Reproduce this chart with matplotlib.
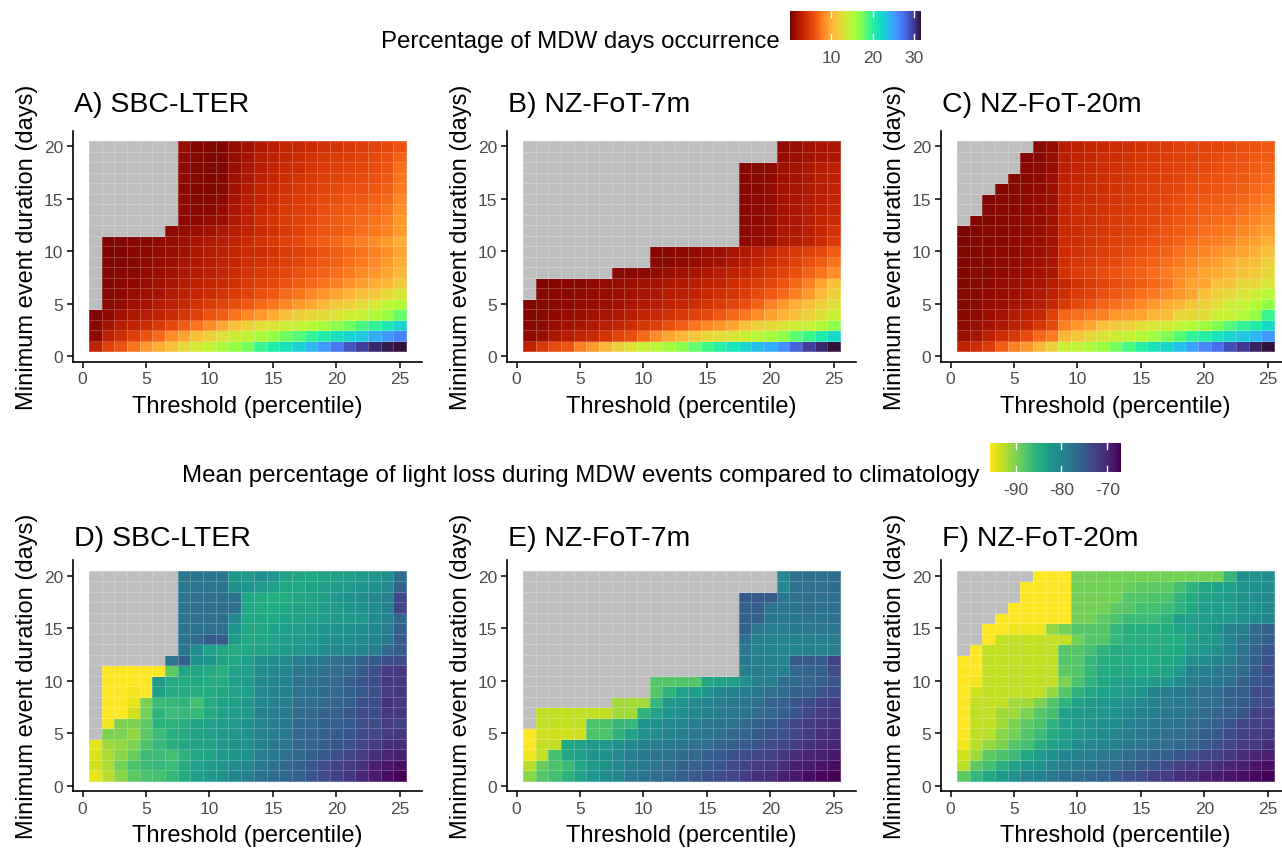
import numpy as np
import matplotlib
matplotlib.use("Agg")
import matplotlib.pyplot as plt
from matplotlib.colors import Normalize
from matplotlib.cm import ScalarMappable

plt.rcParams['font.family'] = ['Liberation Sans', 'DejaVu Sans']
plt.rcParams['axes.unicode_minus'] = False

N = np.nan
thresholds = np.arange(1, 26)
durations = np.arange(1, 21)

# rows = minimum duration 1..20 (bottom to top), columns = threshold 1..25
occ_sbc = [
    [3, 5, 6, 7.5, 9, 10, 11, 12.5, 13.5, 14.5, 15.5, 16.5, 17.5, 19.5, 20.5, 21.5, 22.5, 24, 25.5, 27, 28.8, 29.8, 30.8, 31.3, 31.7],
    [0.8, 2.8, 3.8, 4.8, 6, 7, 8.5, 9.5, 11, 12, 13, 13.8, 14.5, 15.5, 16.5, 17.8, 18.5, 19.8, 20.5, 21.5, 22.5, 23, 24.3, 25.5, 26.5],
    [0.5, 1.5, 2.5, 3, 3.8, 4.5, 5.5, 6.5, 7.5, 8.5, 9.5, 11, 11.8, 12.8, 13.2, 13.8, 14.3, 15, 15.8, 16.8, 17.8, 19, 19.8, 21, 22.5],
    [0.3, 0.8, 1.5, 2, 2.5, 3, 3.5, 4.3, 5, 6, 6.5, 7.5, 8.3, 9, 9.8, 10.8, 11.8, 12.3, 12.8, 13.2, 13.8, 14.3, 15.2, 16.3, 18],
    [N, 0.5, 0.9, 1.4, 1.8, 2.3, 2.8, 3.3, 4, 4.6, 5.2, 5.7, 6.2, 7, 7.6, 8.2, 9, 9.6, 10.5, 11.5, 12, 12.6, 13.6, 14.6, 15.3],
    [N, 0.4, 0.7, 1.0, 1.4, 1.8, 2.3, 2.8, 3.3, 3.7, 4.2, 4.7, 5.2, 5.8, 6.3, 7, 7.5, 8.2, 8.8, 9.5, 10.2, 11, 11.5, 12.5, 13.3],
    [N, 0.3, 0.5, 0.8, 1.1, 1.5, 1.9, 2.4, 2.8, 3.2, 3.6, 4.0, 4.5, 5.0, 5.5, 6.0, 6.5, 7.0, 7.5, 8.0, 8.6, 9.2, 9.8, 10.5, 11.5],
    [N, 0.3, 0.4, 0.6, 0.9, 1.2, 1.6, 2.0, 2.4, 2.8, 3.2, 3.6, 4.0, 4.4, 4.9, 5.4, 5.9, 6.4, 6.8, 7.3, 7.8, 8.3, 8.8, 9.5, 10.5],
    [N, 0.2, 0.3, 0.5, 0.8, 1.0, 1.4, 1.8, 2.2, 2.6, 3.0, 3.3, 3.7, 4.0, 4.4, 4.9, 5.3, 5.8, 6.3, 6.8, 7.3, 7.8, 8.3, 9.0, 10.0],
    [N, 0.2, 0.3, 0.5, 0.7, 0.9, 1.2, 1.6, 2.0, 2.4, 2.8, 3.1, 3.5, 3.8, 4.2, 4.6, 5.0, 5.5, 6.0, 6.5, 7.0, 7.5, 8.0, 8.5, 9.5],
    [N, 0.2, 0.3, 0.4, 0.6, 0.8, 1.1, 1.4, 1.8, 2.2, 2.6, 3.0, 3.5, 4.0, 4.5, 5.0, 5.5, 6.0, 6.5, 7.0, 7.5, 8.0, 8.5, 9.0, 10.0],
    [N] * 6 + [0.9, 1.0, 1.2, 1.6, 2.0, 2.5, 3.0, 3.5, 4.0, 4.5, 5.0, 5.5, 6.0, 6.4, 6.8, 7.2, 7.6, 8.0, 9.0],
    [N] * 7 + [0.8, 0.7, 0.9, 1.3, 2.2, 2.9, 3.6, 4.1, 4.6, 5.0, 5.5, 6.0, 6.4, 6.7, 7.0, 7.4, 7.9, 9.0],
    [N] * 7 + [0.8, 0.5, 0.6, 1.0, 2.0, 2.7, 3.4, 3.9, 4.4, 4.8, 5.2, 5.7, 6.1, 6.4, 6.7, 7.0, 7.5, 8.6],
    [N] * 7 + [0.7, 0.4, 0.4, 0.7, 1.8, 2.5, 3.2, 3.7, 4.2, 4.6, 5.0, 5.5, 5.8, 6.1, 6.3, 6.6, 7.0, 8.2],
    [N] * 7 + [0.7, 0.4, 0.3, 0.5, 1.6, 2.3, 3.0, 3.5, 4.0, 4.4, 4.7, 5.2, 5.5, 5.7, 5.9, 6.2, 6.6, 7.8],
    [N] * 7 + [0.7, 0.4, 0.3, 0.4, 1.4, 2.1, 2.8, 3.3, 3.8, 4.1, 4.4, 4.9, 5.2, 5.4, 5.6, 5.9, 6.3, 7.5],
    [N] * 7 + [0.8, 0.4, 0.3, 0.3, 1.2, 1.9, 2.6, 3.1, 3.5, 3.8, 4.2, 4.6, 4.9, 5.1, 5.4, 5.6, 6.0, 7.2],
    [N] * 7 + [0.8, 0.4, 0.3, 0.3, 1.0, 1.7, 2.4, 2.9, 3.3, 3.6, 4.0, 4.4, 4.6, 4.8, 5.1, 5.4, 5.7, 6.8],
    [N] * 7 + [1.0, 0.4, 0.3, 0.3, 0.9, 1.5, 2.2, 2.7, 3.1, 3.3, 3.7, 4.0, 4.2, 4.4, 4.8, 5.1, 5.5, 6.0],
]

occ_fot7 = [
    [3, 4.5, 5.5, 6, 8, 9, 10.5, 12, 13, 14, 14.8, 15.8, 16.8, 18, 19.3, 20.2, 21.2, 22.2, 23.5, 24.5, 26, 28, 29.8, 30.8, 31.6],
    [0.8, 1.3, 2, 2.5, 3, 3.5, 4.2, 5.2, 5.7, 7, 8.3, 9.5, 10.5, 11.3, 12.3, 12.8, 13.3, 14, 14.8, 15.8, 16.8, 18.3, 19.3, 20.5, 22],
    [0.4, 0.8, 1.2, 1.5, 1.8, 2.2, 2.7, 3.2, 3.7, 4.3, 5, 5.8, 6.5, 7.5, 8.3, 8.8, 9.5, 11, 12, 12.5, 13.2, 13.8, 14.3, 15.2, 16.8],
    [0.3, 0.5, 0.8, 1.0, 1.2, 1.5, 1.8, 2.2, 2.5, 3.0, 3.4, 3.9, 4.5, 5.0, 5.5, 6.2, 7.0, 7.8, 8.5, 9.3, 10.2, 11, 12, 13, 14],
    [0.3, 0.4, 0.6, 0.7, 0.9, 1.1, 1.3, 1.6, 1.9, 2.2, 2.5, 2.9, 3.3, 3.7, 4.1, 4.6, 5.1, 5.8, 6.8, 8.0, 9.0, 10.0, 11.0, 12.0, 12.8],
    [N, 0.4, 0.5, 0.6, 0.8, 0.9, 1.1, 1.3, 1.5, 1.8, 2.1, 2.4, 2.7, 3.0, 3.4, 3.8, 4.2, 4.8, 5.5, 6.2, 7.0, 8.0, 9.0, 10.5, 12.0],
    [N, 0.3, 0.4, 0.5, 0.6, 0.7, 0.9, 1.1, 1.3, 1.5, 1.7, 2.0, 2.3, 2.6, 2.9, 3.2, 3.6, 4.1, 4.7, 5.3, 6.0, 7.0, 8.0, 9.5, 11.0],
    [N] * 7 + [0.5, 0.6, 0.7, 0.9, 1.2, 1.5, 1.8, 2.1, 2.5, 2.9, 3.3, 3.8, 4.4, 5.0, 5.8, 6.8, 7.5, 8.5],
    [N] * 10 + [0.5, 0.6, 0.8, 1.0, 1.3, 1.6, 2.0, 2.5, 3.0, 3.6, 4.2, 5.0, 5.8, 6.5, 7.5],
    [N] * 10 + [0.4, 0.5, 0.7, 0.9, 1.1, 1.4, 1.8, 2.2, 2.7, 3.3, 3.9, 4.5, 5.0, 5.5, 6.5],
    [N] * 17 + [0.8, 1.0, 1.3, 2.0, 2.4, 2.9, 3.5, 4.5],
    [N] * 17 + [0.7, 0.9, 1.2, 1.9, 2.2, 2.7, 3.2, 4.0],
    [N] * 17 + [0.6, 0.8, 1.1, 1.8, 2.1, 2.5, 3.0, 3.5],
    [N] * 17 + [0.6, 0.7, 1.0, 1.7, 2.0, 2.4, 2.8, 3.3],
    [N] * 17 + [0.5, 0.7, 0.9, 1.6, 1.9, 2.3, 2.7, 3.1],
    [N] * 17 + [0.5, 0.6, 0.9, 1.5, 1.8, 2.2, 2.6, 3.0],
    [N] * 17 + [0.4, 0.6, 0.8, 1.4, 1.7, 2.1, 2.5, 2.9],
    [N] * 17 + [0.4, 0.5, 0.8, 1.3, 1.6, 2.0, 2.4, 2.8],
    [N] * 20 + [1.0, 1.3, 1.6, 1.9, 2.1],
    [N] * 20 + [0.9, 1.2, 1.5, 1.8, 2.0],
]

occ_fot20 = [
    [3, 3.8, 4.7, 6.5, 8, 8.8, 10.5, 12, 14, 14.5, 15.3, 16.3, 17.5, 19, 20.2, 21.3, 22.2, 23.5, 25, 26.3, 27.5, 29, 30, 31, 31.6],
    [1.2, 1.8, 2.8, 3.8, 4.4, 5.6, 7, 7.8, 10.5, 11.3, 12.3, 13.2, 13.8, 14.3, 15.2, 16.2, 17.2, 18.5, 19.7, 20.3, 21.3, 22.2, 23, 24, 25.5],
    [0.8, 1.2, 1.6, 2.2, 2.8, 3.3, 4.3, 5.5, 8, 8.8, 9.5, 11, 11.5, 12, 12.8, 13.3, 13.8, 14.5, 15.2, 16, 17.2, 18.5, 19.7, 20.5, 22],
    [0.5, 0.8, 1.2, 1.7, 2.3, 2.8, 3.3, 5.0, 7.0, 7.2, 7.8, 8.0, 9.0, 9.2, 9.5, 10.5, 10.8, 12.3, 12.5, 12.8, 14.0, 14.2, 15.2, 16.5, 19.5],
    [0.4, 0.7, 1.0, 1.3, 1.7, 2.1, 2.6, 3.3, 4.5, 5.5, 6.0, 6.8, 7.3, 7.8, 8.3, 9.0, 9.8, 10.5, 11.3, 12.0, 12.8, 13.8, 14.3, 15.2, 16.5],
    [0.4, 0.6, 0.8, 1.1, 1.4, 1.8, 2.2, 2.8, 3.8, 4.6, 5.2, 5.8, 6.3, 6.8, 7.3, 7.8, 8.3, 8.8, 9.5, 11.0, 12.0, 12.5, 13.2, 13.8, 15.0],
    [0.3, 0.5, 0.7, 0.9, 1.2, 1.5, 1.9, 2.4, 3.3, 4.0, 4.6, 5.2, 5.6, 6.0, 6.5, 7.0, 7.5, 8.5, 9.5, 9.5, 11.0, 11.0, 12.3, 12.3, 13.2],
    [0.3, 0.5, 0.6, 0.8, 1.0, 1.3, 1.7, 2.1, 4.0, 4.6, 5.1, 5.6, 6.0, 6.4, 6.8, 7.2, 7.7, 8.2, 8.8, 9.5, 10.0, 10.5, 11.0, 11.5, 12.5],
    [0.3, 0.4, 0.6, 0.7, 0.9, 1.2, 1.5, 1.9, 3.8, 4.3, 4.7, 5.1, 5.5, 5.9, 6.3, 6.7, 7.2, 7.8, 8.3, 8.8, 9.2, 9.8, 10.5, 10.8, 12.0],
    [0.3, 0.4, 0.5, 0.7, 0.8, 1.1, 1.4, 1.8, 3.6, 4.0, 4.4, 4.8, 5.2, 5.5, 5.9, 6.3, 6.7, 7.2, 7.8, 8.2, 8.6, 9.0, 9.5, 10.0, 11.0],
    [0.2, 0.4, 0.5, 0.6, 0.8, 1.0, 1.3, 1.7, 3.5, 3.8, 4.2, 4.5, 4.9, 5.2, 5.5, 5.9, 6.3, 6.7, 7.2, 7.6, 7.9, 8.2, 8.8, 9.3, 10.0],
    [0.2, 0.3, 0.5, 0.6, 0.7, 0.9, 1.2, 1.6, 3.4, 3.7, 4.0, 4.3, 4.6, 4.9, 5.2, 5.6, 6.0, 6.4, 6.8, 7.2, 7.4, 7.7, 8.2, 8.7, 9.2],
    [N, 0.3, 0.4, 0.5, 0.7, 0.9, 1.1, 1.5, 3.3, 3.6, 3.9, 4.2, 4.4, 4.7, 5.0, 5.3, 5.7, 6.1, 6.5, 6.9, 7.1, 7.3, 7.7, 8.2, 8.6],
    [N, N, 0.4, 0.5, 0.6, 0.8, 1.0, 1.4, 3.2, 3.5, 3.8, 4.0, 4.3, 4.5, 4.8, 5.1, 5.4, 5.8, 6.2, 6.5, 6.7, 6.9, 7.2, 7.7, 8.2],
    [N, N, 0.3, 0.5, 0.6, 0.8, 1.0, 1.3, 3.1, 3.4, 3.7, 3.9, 4.2, 4.4, 4.7, 5.0, 5.3, 5.6, 6.0, 6.2, 6.4, 6.6, 6.9, 7.3, 7.7],
    [N, N, N, 0.4, 0.5, 0.7, 0.9, 1.3, 3.0, 3.3, 3.6, 3.8, 4.1, 4.3, 4.6, 4.9, 5.1, 5.4, 5.7, 5.9, 6.1, 6.3, 6.6, 7.0, 7.3],
    [N] * 4 + [0.4, 0.6, 0.8, 1.2, 2.9, 3.2, 3.5, 3.7, 4.0, 4.2, 4.5, 4.7, 5.0, 5.2, 5.5, 5.7, 5.9, 6.1, 6.3, 6.7, 7.0],
    [N] * 5 + [0.5, 0.7, 1.1, 2.8, 3.1, 3.4, 3.6, 3.9, 4.1, 4.4, 4.6, 4.9, 5.1, 5.3, 5.5, 5.7, 5.9, 6.1, 6.4, 6.7],
    [N] * 5 + [0.4, 0.6, 1.0, 2.7, 3.0, 3.3, 3.5, 3.8, 4.0, 4.3, 4.5, 4.8, 5.0, 5.2, 5.4, 5.5, 5.7, 5.9, 6.2, 6.4],
    [N] * 6 + [0.5, 0.9, 2.6, 2.9, 3.2, 3.4, 3.7, 3.9, 4.2, 4.4, 4.7, 4.9, 5.1, 5.2, 5.3, 5.5, 5.7, 6.0, 6.2],
]

loss_sbc = [
    [-94.5, -92.5, -90.5, -88.5, -87.5, -87, -86, -84.5, -83, -82.5, -81.5, -80, -79.5, -77.5, -77, -76.5, -75.5, -74.5, -73.5, -72.5, -71.5, -70, -69, -68, -67],
    [-93.5, -92, -89.5, -87.5, -86.5, -86, -86.5, -84.5, -83.5, -82.5, -82, -81, -80, -78.5, -77.5, -76.5, -75.5, -74.5, -73.5, -72.5, -72, -71, -69.5, -68.5, -68],
    [-94, -92, -90.5, -89, -86.5, -86.5, -87, -85.5, -84, -83.5, -82.5, -82, -81.5, -79, -78.5, -77.5, -76.5, -75.5, -75, -74, -73, -72, -71, -70, -69.5],
    [-94.5, -91.5, -91, -90, -87.5, -86, -85, -84, -83.5, -83.5, -82.5, -81.5, -81.5, -79.5, -78.5, -78, -76.5, -76, -75.5, -74.5, -74, -73, -72, -71, -70.5],
    [N, -90, -90, -91, -88.5, -86.5, -85, -84.5, -83.5, -83, -82.5, -82, -81.5, -79.5, -79, -78.5, -76.5, -76, -75.5, -75, -74.5, -73.5, -73, -72, -71.5],
    [N, -95, -90, -90, -88.5, -85.5, -85.5, -85, -83.5, -83.5, -83, -82.5, -81.5, -80, -79, -78.5, -77, -76.5, -76, -75.5, -75, -74, -73.5, -72, -72.5],
    [N, -95.5, -95.5, -93.5, -89.5, -85.5, -86.5, -86, -86, -84.5, -83.5, -83, -82.5, -79.5, -79, -78.5, -77, -76.5, -76, -75.5, -74.5, -73.5, -73.5, -71.5, -71.5],
    [N, -95.5, -95.5, -94.5, -90, -86.5, -86, -85.5, -87, -84.5, -83.5, -83, -82, -80.5, -79.5, -79, -77.5, -77, -76.5, -76, -75.5, -74, -73.5, -71, -71.5],
    [N, -95.5, -95.5, -95, -95.5, -83, -84.5, -84.5, -85, -84.5, -84, -83.5, -83, -80.5, -80, -79.5, -78, -77.5, -77, -76.5, -76, -75, -74, -72, -71.5],
    [N, -95.5, -95.5, -95.5, -95.5, -82.5, -84.5, -84.5, -84, -84.5, -84.5, -83, -82.5, -80.5, -80, -79.5, -78, -77.5, -77, -76.5, -75.5, -74.5, -73.5, -71.5, -72],
    [N, -95.5, -95.5, -95.5, -95.5, -95.5, -88.5, -84, -84, -84.5, -85, -83.5, -83, -81, -80.5, -80, -78.5, -78, -77.5, -77, -76.5, -75, -74, -72, -71.5],
    [N] * 6 + [-78, -75.5, -81.5, -82, -83.5, -84, -83, -81.5, -81, -80.5, -79, -78.5, -78, -77.5, -77, -76, -75, -73.5, -73.5],
    [N] * 7 + [-78.5, -81, -83.5, -84, -84.5, -84, -83.5, -83, -82.5, -82, -81.5, -81, -80.5, -80.5, -80, -79, -76.5, -75],
    [N] * 7 + [-78, -77, -75, -75, -82.5, -84, -84, -83.5, -83, -82.5, -82, -81.5, -81, -81, -80.5, -80, -78.5, -75],
    [N] * 7 + [-78, -77.5, -77.5, -77.5, -82, -84, -84, -83.5, -83, -83, -82.5, -82, -82, -81.5, -81, -80.5, -79, -76],
    [N] * 7 + [-78, -77.5, -77.5, -77.5, -80.5, -84, -84, -84, -83.5, -83.5, -83, -83, -82.5, -82.5, -82, -81, -79.5, -76.5],
    [N] * 7 + [-78, -77.5, -77.5, -77.5, -77.5, -84, -84.5, -84.5, -84, -83.5, -83.5, -83, -82.5, -82, -81.5, -81, -79.5, -73],
    [N] * 7 + [-78, -77.5, -77.5, -77.5, -77.5, -84, -84.5, -85, -84.5, -84, -83.5, -83, -82, -81.5, -81, -80.5, -79.5, -73],
    [N] * 7 + [-78.5, -78, -78, -78, -81.5, -82, -82.5, -83, -84, -84, -83.5, -83, -83, -82.5, -82, -81.5, -80.5, -76],
    [N] * 7 + [-78.5, -78, -78, -78, -82, -82.5, -81, -82, -83.5, -84, -84, -83.5, -83.5, -83, -82.5, -82, -81, -77],
]

loss_fot7 = [
    [-90.5, -88, -87, -85.5, -83.5, -82, -81, -80, -78.5, -78, -77, -76.5, -75.5, -75, -74, -73.5, -73, -72, -71, -70.5, -69.5, -69, -68, -67.5, -67],
    [-92.5, -89, -87.5, -86.5, -84, -82.5, -81.5, -80.5, -79, -78.5, -78, -77, -76, -75.5, -75, -74.5, -73.5, -72.5, -72, -71.5, -70.5, -69.5, -69, -68.5, -68],
    [-95, -93, -87, -84, -83, -82, -81.5, -80.5, -79, -78.5, -78, -77.5, -77, -76.5, -75.5, -75, -74, -73.5, -73, -72.5, -71.5, -70.5, -70, -69.5, -69],
    [-95.5, -93, -93, -84, -83.5, -82.5, -82.5, -81.5, -80.5, -79.5, -79, -78.5, -78, -77.5, -77, -76, -75.5, -75, -74.5, -73.5, -73, -72, -71, -70.5, -70],
    [-95.5, -93.5, -93.5, -93.5, -93.5, -87.5, -87.5, -85.5, -83.5, -81.5, -81, -80, -79, -78.5, -78, -77.5, -76.5, -76, -75, -74.5, -74, -73, -72, -71, -70.5],
    [N, -93, -93, -93, -93, -87.5, -87.5, -86, -86, -82, -81.5, -80.5, -80, -79, -78.5, -78, -77.5, -76.5, -76, -75, -74.5, -73, -72, -71.5, -71],
    [N, -93, -93, -93, -93, -93, -93, -91.5, -91.5, -85.5, -83.5, -82, -81, -80.5, -79.5, -79, -78.5, -78, -77, -76.5, -75.5, -74.5, -73, -72, -71.5],
    [N] * 7 + [-91.5, -91.5, -91.5, -86, -82, -81.5, -80.5, -80, -79, -78.5, -78, -77.5, -76, -75.5, -74.5, -73.5, -72.5, -72],
    [N] * 10 + [-88, -85.5, -83.5, -83, -82, -80, -79.5, -79, -78.5, -77.5, -77, -76, -75.5, -74.5, -73.5],
    [N] * 10 + [-88, -88, -88, -88, -84, -83.5, -83, -81, -79.5, -79, -77, -76.5, -76, -75.5, -74.5],
    [N] * 17 + [-79, -79, -79.5, -79.5, -76.5, -76, -75.5, -73.5],
    [N] * 17 + [-78.5, -79, -79.5, -80, -75, -75, -75, -72.5],
    [N] * 17 + [-78.5, -79.5, -80, -80, -80, -79.5, -79.5, -79],
    [N] * 17 + [-77.5, -79.5, -80, -80, -79.5, -79.5, -79.5, -79],
    [N] * 17 + [-76, -78.5, -79, -79, -78.5, -78.5, -78.5, -78],
    [N] * 17 + [-75.5, -76, -78, -78.5, -78, -78, -78, -77.5],
    [N] * 17 + [-75.5, -75.5, -78, -78, -77.5, -77.5, -77.5, -77.5],
    [N] * 17 + [-75, -75, -75, -78, -77.5, -77.5, -77.5, -77.5],
    [N] * 20 + [-80.5, -77.5, -77.5, -77.5, -77],
    [N] * 20 + [-80.5, -77.5, -77.5, -77.5, -77],
]

loss_fot20 = [
    [-88.5, -86, -84, -82.5, -81.5, -80, -79.5, -78.5, -77.5, -77, -76.5, -76, -75, -74, -73.5, -72.5, -72, -71, -70.5, -69.5, -69, -68.5, -68, -67.5, -67],
    [-92.5, -88.5, -87, -85, -83, -82, -81.5, -80.5, -79, -78.5, -78, -77.5, -77, -76, -75, -74.5, -73.5, -72.5, -72, -71.5, -70.5, -70, -69.5, -68.5, -68],
    [-93.5, -91.5, -88.5, -87.5, -86.5, -84, -82.5, -81.5, -80, -79.5, -79, -78.5, -78, -77, -76.5, -76, -75.5, -74.5, -74, -73, -72.5, -71.5, -70.5, -70, -69.5],
    [-95, -92.5, -91, -90, -88, -87, -85, -83.5, -82.5, -81, -80.5, -80, -79.5, -78.5, -78, -77.5, -77, -76.5, -76, -75, -74, -73, -72, -71.5, -70.5],
    [-95.5, -93, -92.5, -90.5, -89.5, -88, -86.5, -84.5, -83, -82, -81.5, -81, -80, -79, -78.5, -78, -77.5, -77, -76.5, -75.5, -75, -73.5, -72.5, -72, -71.5],
    [-95.5, -93, -93, -91.5, -90, -88.5, -87.5, -85.5, -83.5, -82.5, -82, -81.5, -81, -79.5, -79, -78.5, -78, -77.5, -77, -76.5, -75.5, -74.5, -73, -72.5, -72],
    [-95.5, -93, -93, -91.5, -91.5, -90, -88, -87, -83.5, -82.5, -82, -82, -81.5, -80.5, -79.5, -79, -78.5, -78, -77.5, -77, -76, -75.5, -74.5, -72.5, -72.5],
    [-95.5, -93, -93, -93, -91.5, -91.5, -90, -88, -85.5, -83.5, -82.5, -82, -82, -81, -80.5, -79.5, -79, -78.5, -78, -77.5, -77, -76, -75, -74, -73.5],
    [-95.5, -93.5, -93, -93, -93, -93, -93, -91, -88, -85.5, -84, -83.5, -83, -82.5, -82, -79.5, -79, -78.5, -78, -77.5, -77, -76, -75.5, -73.5, -73.5],
    [-95.5, -95, -93, -93, -93, -93, -93, -93, -90, -87.5, -85.5, -84, -83.5, -83, -83, -82.5, -82, -81, -79, -78.5, -78, -77.5, -76, -74.5, -74],
    [-95.5, -95.5, -93, -93, -93, -93, -93, -93, -88.5, -88, -86, -84.5, -84, -84, -84, -84, -83.5, -82.5, -79.5, -79, -78.5, -78, -77, -75, -73.5],
    [-95.5, -95.5, -93, -93, -93, -93, -93, -93, -88, -88, -86, -85, -84.5, -84.5, -84.5, -84.5, -84, -83.5, -81.5, -81, -80, -79, -77.5, -75.5, -74],
    [N, -95.5, -93, -93, -93, -93, -93, -93, -88, -88, -87, -85.5, -84.5, -84.5, -84.5, -84.5, -84.5, -84, -82.5, -82, -81, -79.5, -78, -76, -74.5],
    [N, N, -95.5, -93, -93, -93, -93, -93, -93, -89.5, -88, -88, -86, -85, -85, -85, -84.5, -84.5, -83, -82.5, -81.5, -80, -78.5, -76.5, -75.5],
    [N, N, -95.5, -95.5, -95, -95, -95, -91, -89.5, -88, -88, -88, -86, -85, -85, -85, -84.5, -83.5, -83, -82.5, -81.5, -79.5, -79, -76.5, -76],
    [N, N, N, -95.5, -95.5, -95.5, -95.5, -95.5, -95.5, -89.5, -89.5, -88.5, -87.5, -86.5, -86.5, -86.5, -85.5, -83, -83, -83, -82.5, -82, -81.5, -81, -80],
    [N] * 4 + [-95.5, -95.5, -95.5, -95.5, -95.5, -89.5, -89.5, -89.5, -88.5, -88, -87, -87, -86.5, -85.5, -84, -83, -83, -83, -81.5, -81.5, -80.5],
    [N] * 5 + [-95.5, -95.5, -95.5, -95.5, -89.5, -89.5, -89.5, -89.5, -88, -88, -87.5, -87.5, -85.5, -84.5, -83.5, -83, -82.5, -81.5, -81, -80.5],
    [N] * 5 + [-95.5, -95.5, -95.5, -95.5, -89.5, -89.5, -89.5, -89.5, -89, -88.5, -88.5, -88.5, -87, -85.5, -84, -83.5, -83, -82, -81.5, -81],
    [N] * 6 + [-95.5, -95.5, -95.5, -89.5, -89.5, -89.5, -89.5, -89.5, -89.5, -89.5, -89.5, -89.5, -89.5, -89.5, -89.5, -86, -81.5, -81.5, -81],
]

titles_top = ["A) SBC-LTER", "B) NZ-FoT-7m", "C) NZ-FoT-20m"]
titles_bottom = ["D) SBC-LTER", "E) NZ-FoT-7m", "F) NZ-FoT-20m"]

W, H = 1282, 854
fig = plt.figure(figsize=(W / 100, H / 100), dpi=100)

occ_cmap = plt.get_cmap("turbo_r").copy()
occ_cmap.set_bad("#BEBEBE")
loss_cmap = plt.get_cmap("viridis_r").copy()
loss_cmap.set_bad("#BEBEBE")
occ_norm = Normalize(0, 31.7)
loss_norm = Normalize(-95.6, -67)

x_edges = np.arange(0.5, 26)
y_edges = np.arange(0.5, 21)

lefts_px = [73, 507, 941]
rows = [
    (362.5, [occ_sbc, occ_fot7, occ_fot20], titles_top, occ_cmap, occ_norm, 105),
    (792, [loss_sbc, loss_fot7, loss_fot20], titles_bottom, loss_cmap, loss_norm, 539),
]
ax_w, ax_h = 349, 231
txt = "#4D4D4D"

for bottom_px, grids, titles, cmap, norm, title_y in rows:
    for left_px, grid, title in zip(lefts_px, grids, titles):
        ax = fig.add_axes([left_px / W, 1 - bottom_px / H, ax_w / W, ax_h / H])
        vals = np.ma.masked_invalid(np.array(grid, dtype=float))
        ax.pcolormesh(x_edges, y_edges, vals, cmap=cmap, norm=norm,
                      edgecolors=(1, 1, 1, 0.22), linewidth=0.4)
        ax.set_xlim(-0.75, 26.75)
        ax.set_ylim(-0.5, 21.5)
        ax.set_xticks([0, 5, 10, 15, 20, 25])
        ax.set_yticks([0, 5, 10, 15, 20])
        ax.spines["top"].set_visible(False)
        ax.spines["right"].set_visible(False)
        for s in ["left", "bottom"]:
            ax.spines[s].set_linewidth(1.2)
        ax.tick_params(length=4, width=1.1, labelsize=12.5, labelcolor=txt, pad=3)
        ax.set_xlabel("Threshold (percentile)", fontsize=17, labelpad=6)
        ax.set_ylabel("Minimum event duration (days)", fontsize=17, labelpad=4)
        fig.text((left_px + 1) / W, 1 - title_y / H, title, fontsize=20.5,
                 va="center", ha="left")

# colour bars
legends = [
    (occ_norm, "turbo_r", [10, 20, 30], 790, 12, "Percentage of MDW days occurrence", 780, 42),
    (loss_norm, "viridis_r", [-90, -80, -70], 990, 444, "Mean percentage of light loss during MDW events compared to climatology", 980, 476),
]
for norm, cm, ticks, bx, by, label, tx, ty in legends:
    cax = fig.add_axes([bx / W, 1 - (by + 29) / H, 131 / W, 29 / H])
    cb = fig.colorbar(ScalarMappable(norm=norm, cmap=cm), cax=cax,
                      orientation="horizontal", ticks=ticks)
    cb.outline.set_visible(False)
    cax.tick_params(length=0, labelsize=12.5, labelcolor=txt, pad=7)
    for t in ticks:
        cax.axvline(t, 0, 0.2, color="white", lw=1)
        cax.axvline(t, 0.8, 1, color="white", lw=1)
    fig.text(tx / W, 1 - ty / H, label, fontsize=17.3, ha="right", va="center")

fig.savefig("out.png", dpi=100)
